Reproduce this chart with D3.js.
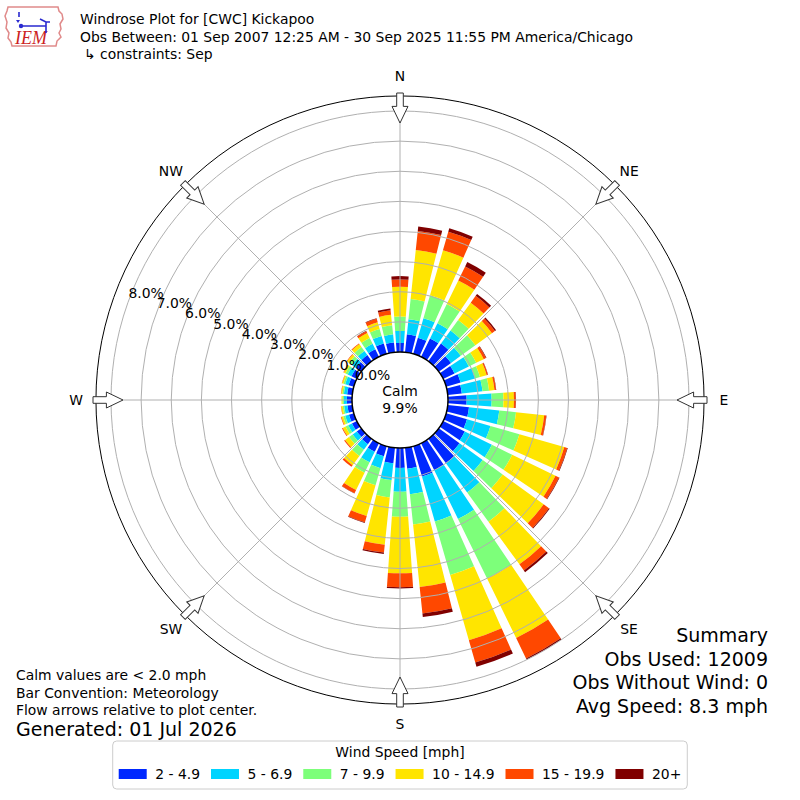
<!DOCTYPE html>
<html>
<head>
<meta charset="utf-8">
<script src="https://cdn.jsdelivr.net/npm/d3@7"></script>
<style>
  body { margin: 0; background: #fff; }
  svg text { font-family: "DejaVu Sans", sans-serif; fill: #000; }
</style>
</head>
<body>
<div id="chart"></div>
<script>
// direction bins (degrees, where the wind comes from)
const directions = d3.range(0, 360, 10);
const speedBins = ["2 - 4.9", "5 - 6.9", "7 - 9.9", "10 - 14.9", "15 - 19.9", "20+"];
const binColors = ["#0028ff", "#00d4ff", "#7dff7a", "#ffe500", "#ff4800", "#800000"];

// percent of obs per direction, one array per speed bin
const speed2to5 = [0.30, 0.60, 0.56, 0.68, 0.72, 0.50, 0.42, 0.50, 0.47, 0.62, 0.71, 0.72,
  0.80, 0.85, 1.00, 1.00, 1.05, 0.70, 0.66, 0.52, 0.35, 0.32, 0.22, 0.18,
  0.18, 0.17, 0.16, 0.17, 0.17, 0.18, 0.20, 0.22, 0.25, 0.28, 0.36, 0.33];
const speed5to7 = [0.40, 0.50, 0.67, 0.56, 0.54, 0.40, 0.53, 0.50, 0.69, 0.83, 1.01, 0.81,
  1.00, 0.95, 1.20, 1.80, 1.55, 0.85, 0.79, 0.56, 0.41, 0.39, 0.23, 0.17,
  0.14, 0.13, 0.11, 0.10, 0.11, 0.12, 0.14, 0.16, 0.17, 0.20, 0.26, 0.27];
const speed7to10 = [0.48, 0.68, 0.79, 0.71, 0.43, 0.60, 0.27, 0.17, 0.22, 0.39, 0.56, 1.00,
  0.75, 0.82, 1.20, 2.20, 1.85, 1.01, 0.83, 0.58, 0.59, 0.38, 0.25, 0.15,
  0.10, 0.07, 0.05, 0.05, 0.05, 0.06, 0.08, 0.12, 0.16, 0.22, 0.24, 0.30];
const speed10to15 = [0.99, 1.63, 1.56, 0.87, 0.71, 0.68, 0.28, 0.23, 0.18, 0.35, 0.94, 1.55,
  1.60, 1.68, 1.75, 2.20, 2.25, 2.09, 1.88, 1.58, 1.06, 0.64, 0.38, 0.16,
  0.10, 0.06, 0.05, 0.03, 0.04, 0.05, 0.06, 0.08, 0.12, 0.18, 0.23, 0.35];
const speed15to20 = [0.24, 0.64, 0.64, 0.52, 0.28, 0.12, 0.08, 0.04, 0.05, 0.06, 0.07, 0.10,
  0.13, 0.22, 0.25, 0.75, 0.77, 0.88, 0.46, 0.26, 0.22, 0.12, 0.07, 0.04,
  0.03, 0.02, 0.01, 0.00, 0.01, 0.01, 0.02, 0.02, 0.03, 0.07, 0.12, 0.15];
const speed20up = [0.11, 0.15, 0.12, 0.16, 0.08, 0.05, 0.02, 0.01, 0.01, 0.01, 0.01, 0.02,
  0.02, 0.03, 0.07, 0.05, 0.15, 0.12, 0.04, 0.05, 0.02, 0.01, 0.00, 0.00,
  0.00, 0.00, 0.00, 0.00, 0.00, 0.00, 0.00, 0.00, 0.00, 0.01, 0.02, 0.06];

const ringTicks = [0, 1, 2, 3, 4, 5, 6, 7, 8];
const compass = ["N", "NE", "E", "SE", "S", "SW", "W", "NW"];
const calmPct = "9.9%";

const titleLines = [
  "Windrose Plot for [CWC] Kickapoo",
  "Obs Between: 01 Sep 2007 12:25 AM - 30 Sep 2025 11:55 PM America/Chicago",
  "\u21b3 constraints: Sep"
];
const noteLines = ["Calm values are < 2.0 mph", "Bar Convention: Meteorology", "Flow arrows relative to plot center."];
const summaryLines = ["Summary", "Obs Used: 12009", "Obs Without Wind: 0", "Avg Speed: 8.3 mph"];

const svgWidth = 800;
const svgHeight = 800;
const cx = 400;
const cy = 400;

const svg = d3.select("#chart").append("svg")
  .attr("width", svgWidth)
  .attr("height", svgHeight);

const rScale = d3.scaleLinear().domain([0, 8]).range([48, 289]);
const outerR = rScale(8.5);
const rad = Math.PI / 180;

const series = [speed2to5, speed5to7, speed7to10, speed10to15, speed15to20, speed20up];
const keys = series.map((s, i) => "b" + i);
const table = directions.map((dir, i) => {
  const row = { dir };
  keys.forEach((k, j) => (row[k] = series[j][i]));
  return row;
});
const stacked = d3.stack().keys(keys)(table);

const plot = svg.append("g").attr("transform", `translate(${cx},${cy})`);

// bars
const arc = d3.arc()
  .innerRadius((d) => rScale(d[0]))
  .outerRadius((d) => rScale(d[1]))
  .startAngle((d) => (d.data.dir - 4) * rad)
  .endAngle((d) => (d.data.dir + 4) * rad);

plot.selectAll("g.layer")
  .data(stacked)
  .join("g")
  .attr("class", "layer")
  .attr("fill", (d, i) => binColors[i])
  .selectAll("path")
  .data((d) => d)
  .join("path")
  .attr("d", arc);

// grid on top of bars
plot.selectAll("circle.ring")
  .data(ringTicks.slice(1))
  .join("circle")
  .attr("class", "ring")
  .attr("r", (d) => rScale(d))
  .attr("fill", "none")
  .attr("stroke", "#b0b0b0")
  .attr("stroke-width", 1);

plot.selectAll("line.spoke")
  .data(d3.range(0, 360, 45))
  .join("line")
  .attr("class", "spoke")
  .attr("x1", 0).attr("y1", 0)
  .attr("x2", (d) => outerR * Math.sin(d * rad))
  .attr("y2", (d) => -outerR * Math.cos(d * rad))
  .attr("stroke", "#b0b0b0")
  .attr("stroke-width", 1);

plot.append("circle")
  .attr("r", outerR)
  .attr("fill", "none")
  .attr("stroke", "#000")
  .attr("stroke-width", 1);

// flow arrows pointing to the center
const arrowPath = "M-3.3,-307 L3.3,-307 L3.3,-293.6 L8,-293.6 L0,-277 L-8,-293.6 L-3.3,-293.6 Z";
plot.selectAll("path.arrow")
  .data(d3.range(0, 360, 45))
  .join("path")
  .attr("class", "arrow")
  .attr("d", arrowPath)
  .attr("transform", (d) => `rotate(${d})`)
  .attr("fill", "#fff")
  .attr("stroke", "#333")
  .attr("stroke-width", 1);

plot.selectAll("text.compass")
  .data(compass)
  .join("text")
  .attr("class", "compass")
  .attr("x", (d, i) => 324 * Math.sin(i * 45 * rad))
  .attr("y", (d, i) => -324 * Math.cos(i * 45 * rad))
  .attr("text-anchor", "middle")
  .attr("dominant-baseline", "central")
  .style("font-size", "13.9px")
  .text((d) => d);

// calm circle
plot.append("circle")
  .attr("r", rScale(0))
  .attr("fill", "#fff")
  .attr("stroke", "#000")
  .attr("stroke-width", 1.5);

plot.append("text")
  .attr("y", -9)
  .attr("text-anchor", "middle")
  .attr("dominant-baseline", "central")
  .style("font-size", "13.9px")
  .text("Calm");
plot.append("text")
  .attr("y", 8)
  .attr("text-anchor", "middle")
  .attr("dominant-baseline", "central")
  .style("font-size", "13.9px")
  .text(calmPct);

// ring labels along 290 degrees
plot.selectAll("text.rlabel")
  .data(ringTicks)
  .join("text")
  .attr("class", "rlabel")
  .attr("x", (d) => rScale(d) * Math.sin(290 * rad))
  .attr("y", (d) => -rScale(d) * Math.cos(290 * rad) - 8.5)
  .attr("dominant-baseline", "central")
  .style("font-size", "13.9px")
  .text((d) => d.toFixed(1) + "%");

// title
svg.selectAll("text.title")
  .data(titleLines)
  .join("text")
  .attr("class", "title")
  .attr("x", (d, i) => (i === 2 ? 84 : 80))
  .attr("y", (d, i) => 24 + i * 17.5)
  .style("font-size", "13.9px")
  .text((d) => d);

// logo
const logo = svg.append("g");
logo.append("path")
  .attr("d", "M8,7 L58,7 L59,11 L62,14 L63,19 L60,24 L61,29 L59,33 L61,37 L57,41 L56,46 L12,46 L11,42 L8,38 L9,33 L6,28 L7,22 L5,16 L7,11 Z")
  .attr("fill", "#fff")
  .attr("stroke", "#e08a8a")
  .attr("stroke-width", 1.5);
logo.append("text")
  .attr("x", 15).attr("y", 44)
  .style("font-family", "'Liberation Serif', serif")
  .style("font-style", "italic")
  .style("font-size", "18px")
  .style("fill", "#cc1f1f")
  .text("IEM");
logo.append("path")
  .attr("d", "M19,12 L19,17 M21,26 L46,26 M40,19 L46,22 L46,33 M46,22 L50,22")
  .attr("fill", "none")
  .attr("stroke", "#2a2ad0")
  .attr("stroke-width", 1.6);
logo.append("circle").attr("cx", 21).attr("cy", 26).attr("r", 2.2).attr("fill", "#2a2ad0");
logo.append("path").attr("d", "M16,20 L20,20 L18,23 Z").attr("fill", "#2a2ad0");

// notes bottom left
svg.selectAll("text.note")
  .data(noteLines)
  .join("text")
  .attr("class", "note")
  .attr("x", 16)
  .attr("y", (d, i) => 680 + i * 17.5)
  .style("font-size", "13.9px")
  .text((d) => d);
svg.append("text")
  .attr("x", 16).attr("y", 736)
  .style("font-size", "19px")
  .text("Generated: 01 Jul 2026");

// summary bottom right
svg.selectAll("text.summary")
  .data(summaryLines)
  .join("text")
  .attr("class", "summary")
  .attr("x", 768)
  .attr("y", (d, i) => 642 + i * 23.5)
  .attr("text-anchor", "end")
  .style("font-size", "19px")
  .text((d) => d);

// legend
const legend = svg.append("g");
const box = legend.append("rect")
  .attr("y", 741).attr("height", 48)
  .attr("rx", 4)
  .attr("fill", "#fff")
  .attr("stroke", "#cccccc")
  .attr("stroke-width", 1);
legend.append("text")
  .attr("x", 400).attr("y", 752)
  .attr("text-anchor", "middle")
  .attr("dominant-baseline", "central")
  .style("font-size", "13.9px")
  .text("Wind Speed [mph]");

const items = legend.selectAll("g.item")
  .data(speedBins)
  .join("g")
  .attr("class", "item");
items.append("rect")
  .attr("width", 28).attr("height", 10)
  .attr("fill", (d, i) => binColors[i]);
items.append("text")
  .attr("x", 36.5).attr("y", 5)
  .attr("dominant-baseline", "central")
  .style("font-size", "13.9px")
  .text((d) => d);

const gap = 11;
let offset = 0;
const starts = [];
items.each(function () {
  starts.push(offset);
  offset += 36.5 + this.querySelector("text").getComputedTextLength() + gap;
});
const rowWidth = offset - gap;
const rowX = 400 - rowWidth / 2;
items.attr("transform", (d, i) => `translate(${rowX + starts[i]},769)`);
box.attr("x", rowX - 6).attr("width", rowWidth + 12);
</script>
</body>
</html>
